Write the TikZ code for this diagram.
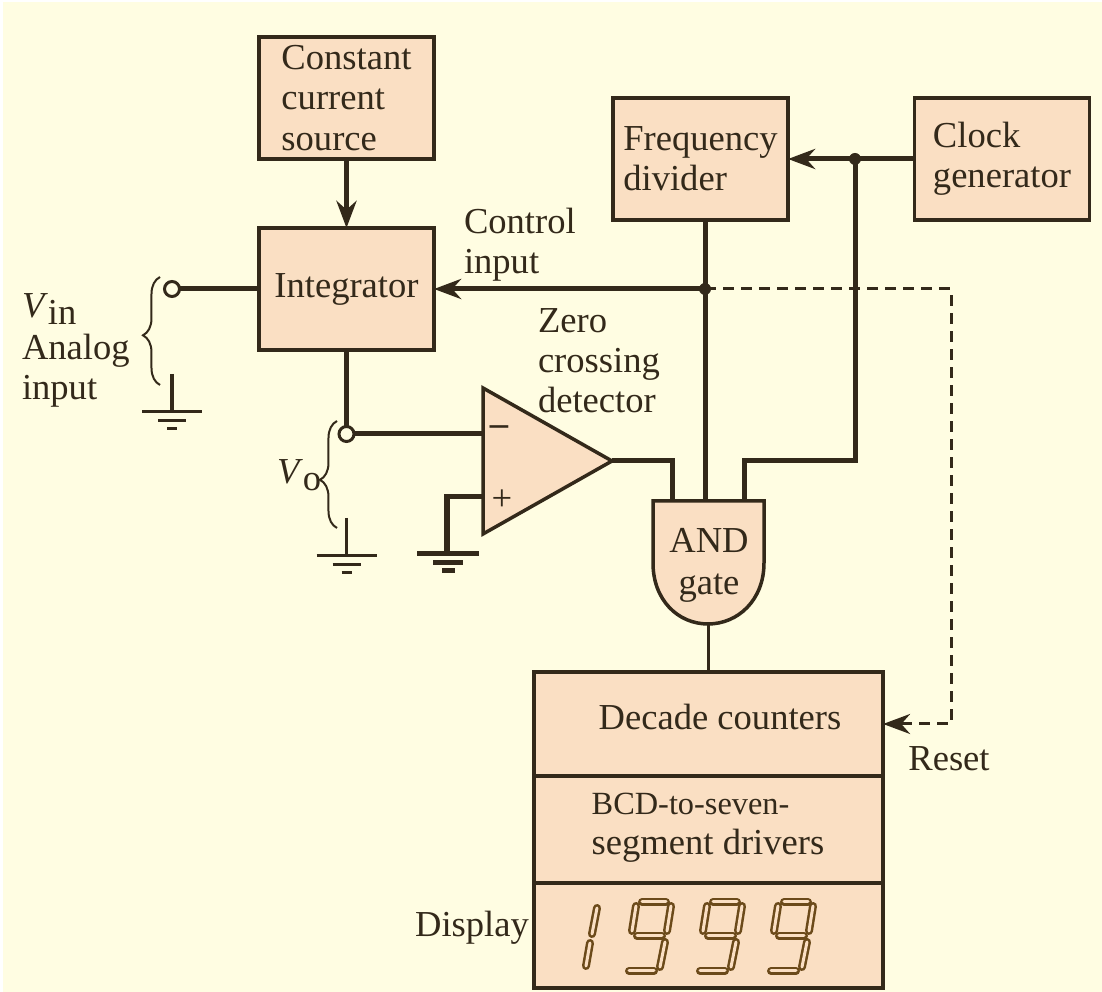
\documentclass[tikz,border=0pt]{standalone}
\usepackage{fontspec}
\setmainfont{Liberation Serif}
\usepackage{xcolor}
\usetikzlibrary{arrows.meta, decorations.pathreplacing, positioning}
\definecolor{paper}{HTML}{FFFDE2}
\definecolor{boxfill}{HTML}{FADFC3}
\definecolor{ink}{HTML}{33291A}
\definecolor{segline}{HTML}{6B4A1A}
\tikzset{
	every node/.style={text=ink, font=\fontsize{10.4}{11.4}\selectfont, inner sep=0pt, outer sep=0pt},
	wire/.style={draw=ink, line width=0.05cm},
	thinwire/.style={draw=ink, line width=0.03cm},
	blockbox/.style={draw=ink, fill=boxfill, line width=0.035cm, align=left,
		minimum width=1.75cm, minimum height=1.22cm},
	stackbox/.style={draw=ink, fill=boxfill, line width=0.035cm, minimum width=3.49cm},
	term/.style={circle, draw=ink, fill=paper, line width=0.03cm, minimum size=0.15cm},
	junction/.style={circle, fill=ink, minimum size=0.12cm},
	head/.style={-{Stealth[length=0.27cm, width=0.2cm]}},
	curly/.style={draw=ink, line width=0.02cm, decorate},
	seg/.style={draw=segline, line width=0.025cm, line cap=round, double=boxfill, double distance=0.03cm},
	gnd/.pic={
		\draw (0,0) -- (0,38);
		\draw (-30,38) -- (30,38);
		\draw (-14,47) -- (14,47);
		\draw (-5,55) -- (5,55);
	}
}
\begin{document}
\begin{tikzpicture}[x=0.01cm, y=-0.01cm]
	\useasboundingbox (0,0) rectangle (1102,992);
	\fill[paper] (3,2) rectangle (1102,992);

	% blocks
	\node[blockbox] (source) at (346.5,98) {Constant\\current\\source};
	\node[blockbox] (integ) at (346.5,289) {Integrator};
	\node[blockbox] (divider) at (700.5,159) {\raisebox{-4pt}{Frequency}\\\raisebox{-4pt}{divider}};
	\node[blockbox] (clock) at (1002,159) {\raisebox{-1pt}{Clock}\\\raisebox{-1pt}{generator}};

	\node[stackbox, minimum height=1.04cm] (decade) at (708.5,724) {};
	\node[stackbox, minimum height=1.07cm, below=0pt of decade] (drivers) {};
	\node[stackbox, minimum height=1.05cm, below=0pt of drivers] (display) {};
	\node (decadetext) at (720,717) {Decade counters};
	\node[align=left] (driverstext) at (708,828) {{\fontsize{9.2}{11.4}\selectfont BCD-to-seven-}\\segment drivers};
	\node (displaytext) at (472,928) {Display};

	% amplifier and gate outline points
	\coordinate (minus) at (483,434);
	\coordinate (plus) at (483,497);
	\coordinate (ampout) at (612,461);
	\coordinate (andA) at (672,501);
	\coordinate (andB) at (705,501);
	\coordinate (andC) at (744,501);
	\coordinate (andout) at (708,624);
	\coordinate (ctrldot) at (705,289);
	\coordinate (clkdot) at (855,159);

	% connectors
	\draw[wire, head] (source) -- (integ);
	\draw[wire, head] (clock) -- (divider);
	\draw[wire, head] (ctrldot) -- (integ);
	\draw[wire] (andB |- divider.south) -- (andB);
	\draw[wire] (clkdot) |- (744,461) -- (andC);
	\draw[wire] (ampout) -- (672,461) -- (andA);
	\draw[thinwire] (andout) -- (andout |- decade.north);
	\draw[thinwire, dashed, dash pattern=on 0.11cm off 0.07cm, head] (ctrldot) -- (951,289) -- (951,724) -- (decade);

	\node[term] (vinterm) at (172,289) {};
	\node[term] (voterm) at (346.5,434) {};
	\draw[wire] (vinterm) -- (integ);
	\draw[wire] (integ) -- (voterm);
	\draw[wire] (voterm) -- (minus);
	\draw[wire] (plus) -- (447,497) -- (447,554);

	\node[junction] (ctrljoin) at (ctrldot) {};
	\node[junction] (clkjoin) at (clkdot) {};

	% grounds
	\pic[line width=0.03cm, draw=ink] at (172,374) {gnd};
	\pic[line width=0.03cm, draw=ink] at (346.5,518) {gnd};
	\draw[wire] (417,554) -- (479,554);
	\draw[wire] (433,563) -- (463,563);
	\draw[wire] (442,571) -- (455,571);

	% amplifier
	\draw[draw=ink, fill=boxfill, line width=0.035cm, line join=miter] (483,388) -- (ampout) -- (483,534) -- cycle;
	\node[font=\bfseries\fontsize{10.4}{12}\selectfont] (minussign) at (499,431) {--};
	\node (plussign) at (502,500) {+};

	% and gate
	\draw[draw=ink, fill=boxfill, line width=0.035cm] (653,501) -- (764,501) -- (764,563)
		.. controls (764,600) and (738,624) .. (andout)
		.. controls (678,624) and (653,600) .. (653,563) -- cycle;
	\node[align=center] (andtext) at (709,565) {AND\\[0.6pt]gate};

	% braces
	\draw[curly, decoration={brace, amplitude=0.17cm, aspect=0.46}] (160,385) -- (160,277);
	\draw[curly, decoration={brace, amplitude=0.17cm, aspect=0.45}] (337,528) -- (337,421);

	% labels
	\node[anchor=west, align=left] (ctrltext) at (464,245) {Control\\input};
	\node[anchor=west, align=left] (zerotext) at (538,361) {Zero\\crossing\\detector};
	\node (resettext) at (949,759) {Reset};
	\node[anchor=west] (vintext) at (22,309) {\textit{V}\raisebox{-2pt}{in}};
	\node[anchor=west, align=left] (analogtext) at (22,371) {Analog\\input};
	\node[anchor=west] (votext) at (277,475) {\textit{V}\raisebox{-2pt}{o}};

	% seven segment digits
	\foreach \dx in {0,71,142} {
		\begin{scope}[xshift=\dx*0.01cm]
			\draw[seg] (642,902) -- (666,902);
			\draw[seg] (636,906) -- (632,931);
			\draw[seg] (671,906) -- (667,931);
			\draw[seg] (637,936) -- (662,936);
			\draw[seg] (665,942) -- (660,967);
			\draw[seg] (629,971) -- (654,971);
		\end{scope}
	}
	\draw[seg] (597,908) -- (592,934);
	\draw[seg] (590,943) -- (586,966);
\end{tikzpicture}
\end{document}
